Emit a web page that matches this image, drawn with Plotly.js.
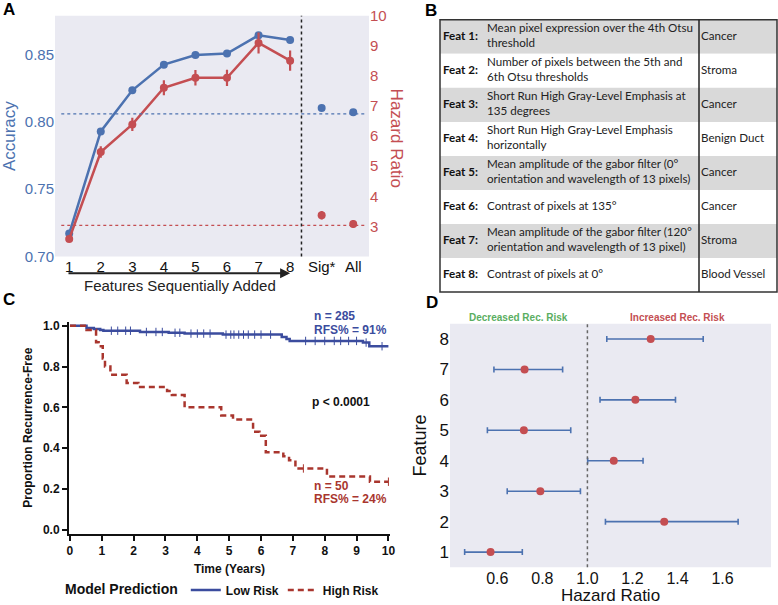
<!DOCTYPE html>
<html>
<head>
<meta charset="utf-8">
<script src="https://cdn.plot.ly/plotly-3.0.1.min.js"></script>
<style>html,body{margin:0;padding:0;background:#fff;}#chart{width:778px;height:605px;}</style>
</head>
<body>
<div id="chart"></div>
<script>
// ---------- Panel A data ----------
const featSteps = ['1','2','3','4','5','6','7','8'];
const extraModels = ['Sig*','All'];
const accuracy = [0.717, 0.793, 0.8236, 0.8427, 0.8498, 0.851, 0.8645, 0.861];
const accuracyErr = [0.0015, 0.0015, 0.0015, 0.0015, 0.0015, 0.0015, 0.0015, 0.0015];
const hazard = [2.58, 5.47, 6.39, 7.61, 7.94, 7.94, 9.10, 8.51];
const hazardErr = [0.08, 0.19, 0.22, 0.25, 0.26, 0.27, 0.35, 0.34];
const extraAccuracy = [0.8104, 0.8072];
const extraHazard = [3.37, 3.08];
const extraHazardErr = [0.14, 0.13];
const accuracyBaseline = 0.806;
const hazardBaseline = 3.03;

// ---------- Panel B data ----------
const tableRows = ['Feat 1:','Feat 2:','Feat 3:','Feat 4:','Feat 5:','Feat 6:','Feat 7:','Feat 8:'];
const tableInfo = [
  'Mean pixel expression over the 4th Otsu<br>threshold',
  'Number of pixels between the 5th and<br>6th Otsu thresholds',
  'Short Run High Gray-Level Emphasis at<br>135 degrees',
  'Short Run High Gray-Level Emphasis<br>horizontally',
  'Mean amplitude of the gabor filter (0°<br>orientation and wavelength of 13 pixels)',
  'Contrast of pixels at 135°',
  'Mean amplitude of the gabor filter (120°<br>orientation and wavelength of 13 pixel)',
  'Contrast of pixels at 0°'
];
const tableAnnotation = ['Cancer','Stroma','Cancer','Benign Duct','Cancer','Cancer','Stroma','Blood Vessel'];
const tableHeaders = ['Feature Information','Annotation'];

// ---------- Panel C data ----------
const lowRiskTime = [0, 0.52, 0.75, 0.95, 1.05, 2.2, 3.1, 3.6, 4.8, 6.65, 6.8, 6.9, 9.2, 9.4, 10];
const lowRiskSurv = [1.0, 0.99, 0.985, 0.98, 0.976, 0.97, 0.966, 0.962, 0.957, 0.945, 0.935, 0.926, 0.918, 0.90, 0.90];
const lowCensorTime = [1.3,1.5,1.75,1.9,2.4,2.7,2.9,3.3,3.45,3.8,4.0,4.2,4.4,4.9,5.05,5.15,5.3,5.45,5.6,5.8,6.0,6.3,7.4,7.7,8.0,8.3,8.5,8.75,9.0,9.3,9.8];
const lowCensorSurv = [0.976,0.976,0.976,0.976,0.97,0.97,0.97,0.966,0.966,0.962,0.962,0.962,0.962,0.957,0.957,0.957,0.957,0.957,0.957,0.957,0.957,0.957,0.926,0.926,0.926,0.926,0.926,0.926,0.926,0.918,0.90];
const highRiskTime = [0, 0.52, 0.82, 0.9, 1.03, 1.1, 1.27, 1.78, 2.15, 3.05, 3.2, 3.6, 4.75, 5.12, 5.75, 5.95, 6.15, 6.7, 6.88, 7.08, 8.07, 9.42, 10];
const highRiskSurv = [1.0, 0.98, 0.92, 0.90, 0.84, 0.80, 0.76, 0.72, 0.70, 0.68, 0.66, 0.60, 0.56, 0.54, 0.48, 0.46, 0.38, 0.36, 0.34, 0.30, 0.26, 0.235, 0.235];
const highCensorTime = [7.33, 10];
const highCensorSurv = [0.30, 0.235];
const kmYTicks = [0, 0.2, 0.4, 0.6, 0.8, 1.0];
const kmXTicks = [0,1,2,3,4,5,6,7,8,9,10];

// ---------- Panel D data ----------
const featureIds = [1,2,3,4,5,6,7,8];
const featHR = [0.570, 1.341, 0.791, 1.117, 0.718, 1.213, 0.721, 1.281];
const featLower = [0.455, 1.080, 0.644, 1.001, 0.556, 1.056, 0.585, 1.086];
const featUpper = [0.711, 1.669, 0.969, 1.247, 0.926, 1.391, 0.890, 1.514];
const hrTicks = [0.6, 0.8, 1.0, 1.2, 1.4, 1.6];

// ---------- styles ----------
const BLUE = '#4C72B0', RED = '#C44E52', BG = '#EAEAF2';
const KMBLUE = '#3B4C9E', KMRED = '#A9362E';
const SANS = 'Liberation Sans, Arial, sans-serif';
const W = 778, H = 605;
const px = v => v / W;             // pixel -> paper x
const py = v => 1 - v / H;         // pixel -> paper y

const traces = [];
// Panel A
traces.push({x: featSteps, y: accuracy, type: 'scatter', mode: 'lines+markers', xaxis: 'x', yaxis: 'y',
  line: {color: BLUE, width: 2.5}, marker: {color: BLUE, size: 8},
  error_y: {type: 'data', array: accuracyErr, color: BLUE, thickness: 2, width: 0}, showlegend: false, hoverinfo: 'skip'});
traces.push({x: extraModels, y: extraAccuracy, type: 'scatter', mode: 'markers', xaxis: 'x', yaxis: 'y',
  marker: {color: BLUE, size: 8}, showlegend: false, hoverinfo: 'skip'});
traces.push({x: featSteps, y: hazard, type: 'scatter', mode: 'lines+markers', xaxis: 'x', yaxis: 'y2',
  line: {color: RED, width: 2.5}, marker: {color: RED, size: 8},
  error_y: {type: 'data', array: hazardErr, color: RED, thickness: 2.2, width: 0}, showlegend: false, hoverinfo: 'skip'});
traces.push({x: extraModels, y: extraHazard, type: 'scatter', mode: 'markers', xaxis: 'x', yaxis: 'y2',
  marker: {color: RED, size: 8},
  error_y: {type: 'data', array: extraHazardErr, color: RED, thickness: 2.2, width: 0}, showlegend: false, hoverinfo: 'skip'});

// Panel B (table drawn on its own hidden axes)
const rowIdx = tableRows.map((_, i) => i + 1);
const TF = 'Lato, sans-serif';
const TS = 11.6;
traces.push({x: tableRows.map(() => 3), y: rowIdx, text: tableRows, type: 'scatter', mode: 'text', xaxis: 'x4', yaxis: 'y5',
  textposition: 'middle right', textfont: {family: TF, size: TS, color: '#111', weight: 'bold'},
  showlegend: false, hoverinfo: 'skip', cliponaxis: false});
traces.push({x: tableInfo.map(() => 47), y: rowIdx, text: tableInfo, type: 'scatter', mode: 'text', xaxis: 'x4', yaxis: 'y5',
  textposition: 'middle right', textfont: {family: TF, size: TS, color: '#222'},
  showlegend: false, hoverinfo: 'skip', cliponaxis: false});
traces.push({x: tableAnnotation.map(() => 261), y: rowIdx, text: tableAnnotation, type: 'scatter', mode: 'text', xaxis: 'x4', yaxis: 'y5',
  textposition: 'middle right', textfont: {family: TF, size: TS, color: '#222'},
  showlegend: false, hoverinfo: 'skip', cliponaxis: false});
traces.push({x: [130, 291], y: [0.27, 0.27], text: tableHeaders, type: 'scatter', mode: 'text', xaxis: 'x4', yaxis: 'y5',
  textposition: 'middle center', textfont: {family: TF, size: 12, color: '#111', weight: 'bold'},
  showlegend: false, hoverinfo: 'skip', cliponaxis: false});

// Panel C
traces.push({x: lowRiskTime, y: lowRiskSurv, type: 'scatter', mode: 'lines', xaxis: 'x2', yaxis: 'y3', name: 'Low Risk',
  line: {color: KMBLUE, width: 2.5, shape: 'hv'}, hoverinfo: 'skip', legendrank: 1});
traces.push({x: highRiskTime, y: highRiskSurv, type: 'scatter', mode: 'lines', xaxis: 'x2', yaxis: 'y3', name: 'High Risk',
  line: {color: KMRED, width: 2.5, shape: 'hv', dash: '6px,4px'}, hoverinfo: 'skip', legendrank: 2});
traces.push({x: lowCensorTime, y: lowCensorSurv, type: 'scatter', mode: 'markers', xaxis: 'x2', yaxis: 'y3',
  marker: {symbol: 'line-ns', size: 6, line: {color: KMBLUE, width: 1}}, showlegend: false, hoverinfo: 'skip'});
traces.push({x: highCensorTime, y: highCensorSurv, type: 'scatter', mode: 'markers', xaxis: 'x2', yaxis: 'y3',
  marker: {symbol: 'line-ns', size: 6, line: {color: KMRED, width: 1}}, showlegend: false, hoverinfo: 'skip'});

// Panel D
traces.push({x: featHR, y: featureIds, type: 'scatter', mode: 'markers', xaxis: 'x3', yaxis: 'y4',
  marker: {color: RED, size: 8},
  error_x: {type: 'data', symmetric: false,
    array: featUpper.map((u, i) => u - featHR[i]), arrayminus: featLower.map((l, i) => featHR[i] - l),
    color: BLUE, thickness: 1.6, width: 3},
  showlegend: false, hoverinfo: 'skip'});

const shapes = [
  // panel backgrounds
  {type: 'rect', xref: 'x domain', yref: 'y domain', x0: 0, x1: 1, y0: 0, y1: 1, fillcolor: BG, line: {width: 0}, layer: 'below'},
  {type: 'rect', xref: 'x3 domain', yref: 'y4 domain', x0: 0, x1: 1, y0: 0, y1: 1, fillcolor: BG, line: {width: 0}, layer: 'below'},
  // panel A reference lines
  {type: 'line', xref: 'x domain', yref: 'y', x0: 0.02, x1: 0.99, y0: accuracyBaseline, y1: accuracyBaseline, line: {color: BLUE, width: 1.3, dash: 'dot'}},
  {type: 'line', xref: 'x domain', yref: 'y2', x0: 0.02, x1: 0.99, y0: hazardBaseline, y1: hazardBaseline, line: {color: RED, width: 1.3, dash: 'dot'}},
  {type: 'line', xref: 'x', yref: 'y domain', x0: 7.36, x1: 7.36, y0: 0, y1: 1, line: {color: '#222', width: 1.5, dash: 'dot'}},
  // panel D reference line
  {type: 'line', xref: 'x3', yref: 'y4 domain', x0: 1, x1: 1, y0: 0, y1: 1, line: {color: '#666', width: 1.5, dash: 'dot'}}
];
// table row fills
rowIdx.forEach(r => {
  shapes.push({type: 'rect', xref: 'x4 domain', yref: 'y5', x0: 0, x1: 1, y0: r - 0.5, y1: r + 0.5,
    fillcolor: (r % 2 === 1) ? '#D9D9D9' : '#FFFFFF', line: {width: 0}, layer: 'below'});
});
shapes.push({type: 'rect', xref: 'x4 domain', yref: 'y5 domain', x0: 0, x1: 1, y0: 0, y1: 1, line: {color: '#333', width: 1.5}, fillcolor: 'rgba(0,0,0,0)'});
shapes.push({type: 'line', xref: 'x4', yref: 'y5 domain', x0: 259, x1: 259, y0: 0, y1: 1, line: {color: '#222', width: 1.5}});

const ann = (x, y, text, opt) => Object.assign({xref: 'paper', yref: 'paper', x: px(x), y: py(y), text: text, showarrow: false,
  xanchor: 'center', yanchor: 'middle'}, opt || {});
const annotations = [
  ann(9, 10, '<b>A</b>', {font: {family: SANS, size: 17, color: '#000'}}),
  ann(431, 11, '<b>B</b>', {font: {family: SANS, size: 17, color: '#000'}}),
  ann(9, 302, '<b>C</b>', {font: {family: SANS, size: 17, color: '#000'}}),
  ann(432, 306, '<b>D</b>', {font: {family: SANS, size: 17, color: '#000'}}),
  ann(180, 288, 'Features Sequentially Added', {font: {family: SANS, size: 15, color: '#222'}}),
  ann(396, 139, 'Hazard Ratio', {textangle: 90, font: {family: SANS, size: 17, color: RED}}),
  // sequential arrow
  {xref: 'x', yref: 'paper', x: 7, y: py(276), axref: 'x', ayref: 'pixel', ax: -0.07, ay: 0, text: '', showarrow: true,
    arrowhead: 2, arrowsize: 1, arrowwidth: 2, arrowcolor: '#222'},
  // panel C labels
  ann(312, 319, '<b>n = 285</b>', {xanchor: 'left', font: {family: SANS, size: 12, color: KMBLUE}}),
  ann(312, 333, '<b>RFS% = 91%</b>', {xanchor: 'left', font: {family: SANS, size: 12, color: KMBLUE}}),
  ann(310, 406, '<b>p < 0.0001</b>', {xanchor: 'left', font: {family: SANS, size: 12, color: '#111'}}),
  ann(312, 491, '<b>n = 50</b>', {xanchor: 'left', font: {family: SANS, size: 12, color: KMRED}}),
  ann(312, 504, '<b>RFS% = 24%</b>', {xanchor: 'left', font: {family: SANS, size: 12, color: KMRED}}),
  // panel D labels
  ann(518, 321, '<b>Decreased Rec. Risk</b>', {font: {family: SANS, size: 10, color: '#5AAE61'}}),
  ann(677, 321, '<b>Increased Rec. Risk</b>', {font: {family: SANS, size: 10, color: RED}})
];

const layout = {
  width: W, height: H,
  margin: {l: 0, r: 0, t: 0, b: 0},
  paper_bgcolor: '#fff', plot_bgcolor: 'rgba(0,0,0,0)',
  font: {family: SANS, color: '#222'},
  showlegend: true,
  legend: {orientation: 'h', x: px(63), y: py(596), xanchor: 'left', yanchor: 'middle',
    title: {text: 'Model Prediction', side: 'left', font: {family: SANS, size: 14, color: '#111', weight: 'bold'}},
    font: {family: SANS, size: 12, color: '#111', weight: 'bold'}, itemwidth: 30, entrywidth: 52, entrywidthmode: 'pixels',
    tracegroupgap: 0, bgcolor: 'rgba(0,0,0,0)'},
  // Panel A
  xaxis: {domain: [px(55), px(369)], anchor: 'y', type: 'category', categoryarray: featSteps.concat(extraModels),
    range: [-0.45, 9.5], showgrid: false, zeroline: false, showline: false, ticks: '',
    tickfont: {family: SANS, size: 15, color: '#111'}},
  yaxis: {domain: [py(259), py(16)], anchor: 'x', range: [0.70, 0.879], tickvals: [0.70, 0.75, 0.80, 0.85], tickformat: '.2f',
    showgrid: false, zeroline: false, ticks: '', tickfont: {family: SANS, size: 15, color: BLUE},
    title: {text: 'Accuracy', font: {family: SANS, size: 17, color: BLUE}, standoff: 6}},
  yaxis2: {overlaying: 'y', side: 'right', anchor: 'x', range: [2, 10], tickvals: [3,4,5,6,7,8,9,10],
    showgrid: false, zeroline: false, ticks: '', tickfont: {family: SANS, size: 15, color: RED}},
  // Panel C
  xaxis2: {domain: [px(69), px(390)], anchor: 'y3', range: [-0.03, 10.05], tickvals: kmXTicks,
    showgrid: false, zeroline: false, showline: true, linecolor: '#111', linewidth: 2,
    ticks: 'outside', ticklen: 5, tickwidth: 2, tickcolor: '#111',
    tickfont: {family: SANS, size: 12, color: '#111', weight: 'bold'},
    title: {text: 'Time (Years)', font: {family: SANS, size: 12, color: '#111', weight: 'bold'}, standoff: 8}},
  yaxis3: {domain: [py(539), py(325)], anchor: 'x2', range: [-0.02, 1.02], tickvals: kmYTicks, tickformat: '.1f',
    showgrid: false, zeroline: false, showline: true, linecolor: '#111', linewidth: 2,
    ticks: 'outside', ticklen: 5, tickwidth: 2, tickcolor: '#111',
    tickfont: {family: SANS, size: 12, color: '#111', weight: 'bold'},
    title: {text: 'Proportion Recurrence-Free', font: {family: SANS, size: 12, color: '#111', weight: 'bold'}, standoff: 8}},
  // Panel D
  xaxis3: {domain: [px(450), px(771)], anchor: 'y4', range: [0.39, 1.815], tickvals: hrTicks, tickformat: '.1f',
    showgrid: false, zeroline: false, ticks: '', ticklabelstandoff: 0, tickfont: {family: SANS, size: 16, color: '#111'},
    title: {text: 'Hazard Ratio', font: {family: SANS, size: 17, color: '#111'}, standoff: 3}},
  yaxis4: {domain: [py(573), py(327)], anchor: 'x3', range: [0.5, 8.5], tickvals: featureIds,
    showgrid: false, zeroline: false, ticks: '', tickfont: {family: SANS, size: 17, color: '#111'},
    title: {text: 'Feature', font: {family: SANS, size: 18, color: '#111'}, standoff: 8}},
  // Panel B table axes
  xaxis4: {domain: [px(440), px(777)], anchor: 'y5', range: [0, 337], visible: false},
  yaxis5: {domain: [py(295), py(20)], anchor: 'x4', range: [8.5, 0.5], visible: false},
  shapes: shapes,
  annotations: annotations
};

Plotly.newPlot('chart', traces, layout, {displayModeBar: false, responsive: false});
</script>
</body>
</html>
